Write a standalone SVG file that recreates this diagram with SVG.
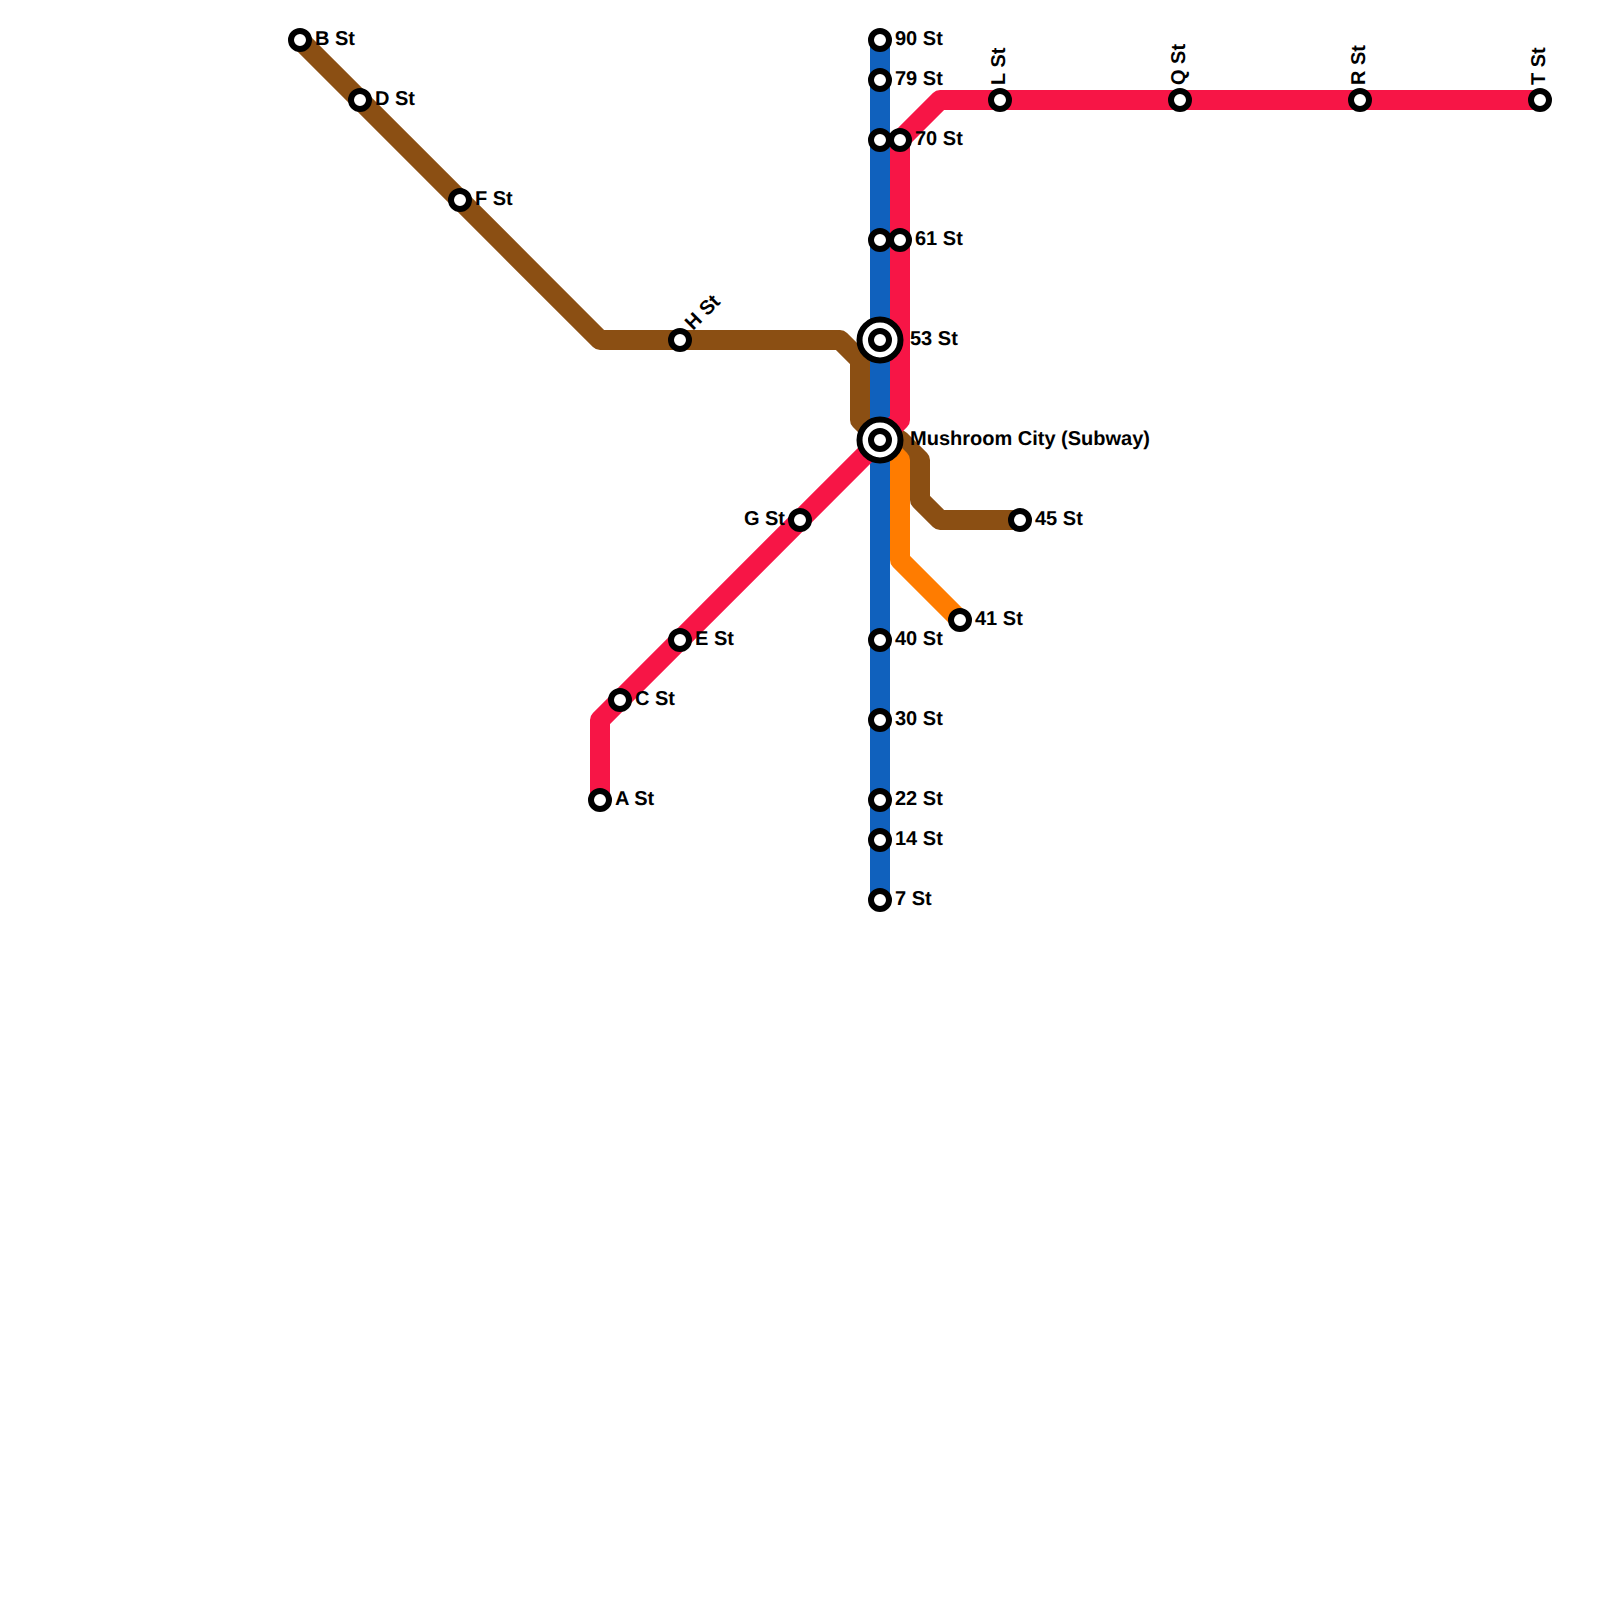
<svg xmlns="http://www.w3.org/2000/svg" width="1600" height="1600" viewBox="0 0 1600 1600">
<style>
.l{fill:none;stroke-width:20;stroke-linejoin:round;stroke-linecap:butt}
.s{fill:#fff;stroke:#000;stroke-width:6}
.i{fill:#fff;stroke:#000;stroke-width:6}
.t{font-family:"Liberation Sans",Arial,sans-serif;font-size:20px;font-weight:bold;fill:#000;text-rendering:geometricPrecision}
.e{text-anchor:end}
</style>
<rect width="1600" height="1600" fill="#fff"/>
<g id="connectors">
<path class="l" stroke="#8b4f13" d="M300 40L600 340H840L860 360V420L880 440H900L920 460V500L940 520H1020"/>
<path class="l" stroke="#ff7c00" d="M880 440L900 460V560L960 620"/>
<path class="l" stroke="#1061bd" d="M880 40V900"/>
<path class="l" stroke="#f71546" d="M600 800V720L880 440M880 440L900 420V140L940 100H1540"/>
</g>
<g id="n-b"><circle class="s" cx="300" cy="40" r="9"/><text class="t" x="315" y="45">B St</text></g>
<g id="n-d"><circle class="s" cx="360" cy="100" r="9"/><text class="t" x="375" y="105">D St</text></g>
<g id="n-f"><circle class="s" cx="460" cy="200" r="9"/><text class="t" x="475" y="205">F St</text></g>
<g id="n-h"><circle class="s" cx="680" cy="340" r="9"/><text class="t" transform="translate(693 331) rotate(-45)">H St</text></g>
<g id="n-g"><circle class="s" cx="800" cy="520" r="9"/><text class="t e" x="785" y="525">G St</text></g>
<g id="n-e"><circle class="s" cx="680" cy="640" r="9"/><text class="t" x="695" y="645">E St</text></g>
<g id="n-c"><circle class="s" cx="620" cy="700" r="9"/><text class="t" x="635" y="705">C St</text></g>
<g id="n-a"><circle class="s" cx="600" cy="800" r="9"/><text class="t" x="615" y="805">A St</text></g>
<g id="n-90"><circle class="s" cx="880" cy="40" r="9"/><text class="t" x="895" y="45">90 St</text></g>
<g id="n-79"><circle class="s" cx="880" cy="80" r="9"/><text class="t" x="895" y="85">79 St</text></g>
<g id="n-70b"><circle class="s" cx="880" cy="140" r="9"/></g>
<g id="n-70"><circle class="s" cx="900" cy="140" r="9"/><text class="t" x="915" y="145">70 St</text></g>
<g id="n-61b"><circle class="s" cx="880" cy="240" r="9"/></g>
<g id="n-61"><circle class="s" cx="900" cy="240" r="9"/><text class="t" x="915" y="245">61 St</text></g>
<g id="n-53"><circle class="i" cx="880" cy="340" r="20.5"/><circle class="s" cx="880" cy="340" r="9"/><text class="t" x="910" y="345">53 St</text></g>
<g id="n-mc"><circle class="i" cx="880" cy="440" r="20.5"/><circle class="s" cx="880" cy="440" r="9"/><text class="t" x="910" y="445">Mushroom City (Subway)</text></g>
<g id="n-45"><circle class="s" cx="1020" cy="520" r="9"/><text class="t" x="1035" y="525">45 St</text></g>
<g id="n-41"><circle class="s" cx="960" cy="620" r="9"/><text class="t" x="975" y="625">41 St</text></g>
<g id="n-40"><circle class="s" cx="880" cy="640" r="9"/><text class="t" x="895" y="645">40 St</text></g>
<g id="n-30"><circle class="s" cx="880" cy="720" r="9"/><text class="t" x="895" y="725">30 St</text></g>
<g id="n-22"><circle class="s" cx="880" cy="800" r="9"/><text class="t" x="895" y="805">22 St</text></g>
<g id="n-14"><circle class="s" cx="880" cy="840" r="9"/><text class="t" x="895" y="845">14 St</text></g>
<g id="n-7"><circle class="s" cx="880" cy="900" r="9"/><text class="t" x="895" y="905">7 St</text></g>
<g id="n-l"><circle class="s" cx="1000" cy="100" r="9"/><text class="t" transform="translate(1005 85) rotate(-90)">L St</text></g>
<g id="n-q"><circle class="s" cx="1180" cy="100" r="9"/><text class="t" transform="translate(1185 85) rotate(-90)">Q St</text></g>
<g id="n-r"><circle class="s" cx="1360" cy="100" r="9"/><text class="t" transform="translate(1365 85) rotate(-90)">R St</text></g>
<g id="n-t"><circle class="s" cx="1540" cy="100" r="9"/><text class="t" transform="translate(1545 85) rotate(-90)">T St</text></g>
</svg>
